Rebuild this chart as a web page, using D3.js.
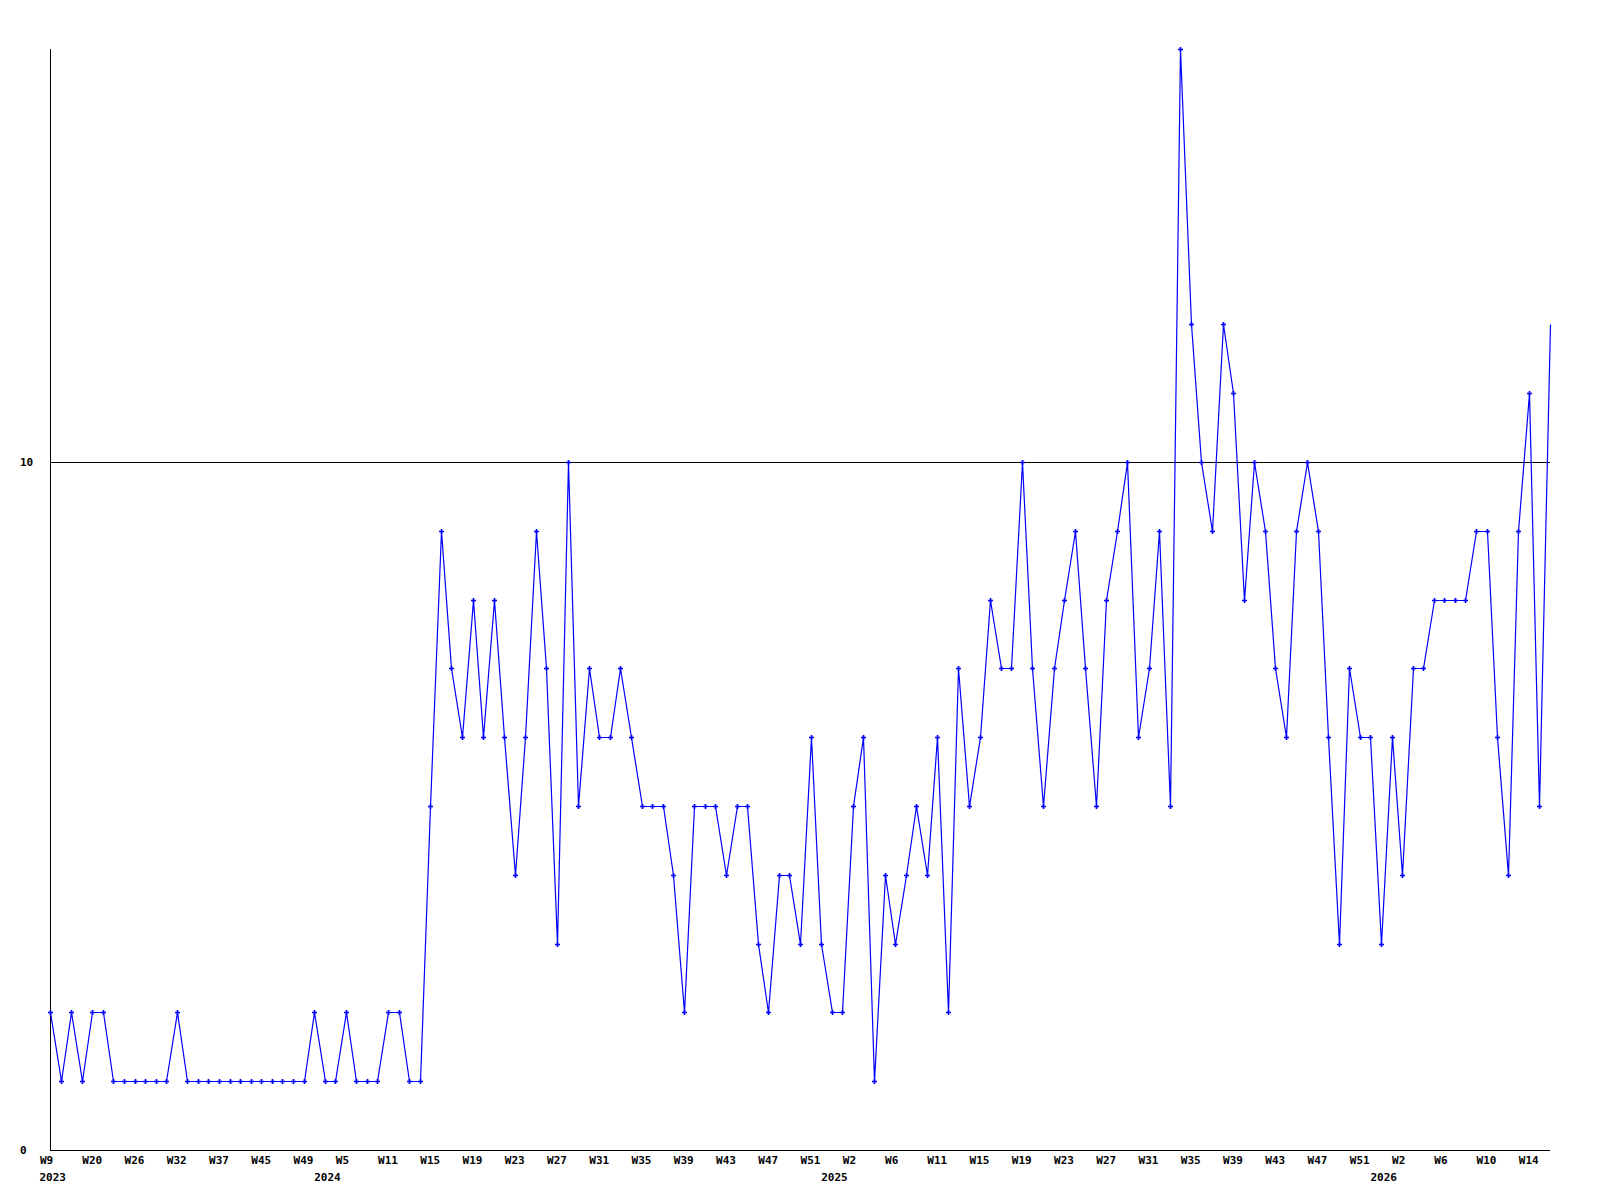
<!DOCTYPE html>
<html>
<head>
<meta charset="utf-8">
<script src="https://cdn.jsdelivr.net/npm/d3@7"></script>
<style>
  html, body { margin: 0; padding: 0; background: #fff; }
  svg text { font-family: "DejaVu Sans Mono", monospace; font-weight: bold; font-size: 11px; }
</style>
</head>
<body>
<svg id="chart" width="1600" height="1200"></svg>
<script>
// weekly counts, one per data point
const values = [
  2,1,2,1,2,2,1,1,1,1,1,1,2,1,1,1,1,1,1,1,1,1,1,1,1,2,1,1,2,1,1,1,2,2,1,1,
  5,9,7,6,8,6,8,6,4,6,9,7,3,10,5,7,6,6,7,6,5,5,5,4,2,5,5,5,4,5,5,3,2,4,4,
  3,6,3,2,2,5,6,1,4,3,4,5,4,6,2,7,5,6,8,7,7,10,7,5,7,8,9,7,5,8,9,10,6,7,9,5,
  16,12,10,9,12,11,8,10,9,7,6,9,10,9,6,3,7,6,6,3,6,4,7,7,8,8,8,8,9,9,6,4,9,11,5,12
];

// week labels, shown on every 4th point
const tick_weeks = ["W9","W20","W26","W32","W37","W45","W49","W5","W11","W15","W19","W23",
  "W27","W31","W35","W39","W43","W47","W51","W2","W6","W11","W15","W19","W23","W27",
  "W31","W35","W39","W43","W47","W51","W2","W6","W10","W14"];
const tick_step = 4;

// year labels and the point index where each year starts
const years = ["2023","2024","2025","2026"];
const year_start = [0, 26, 74, 126];

const y_ticks = [0, 10];
const ref_value = 10;

const margin = {left: 50, right: 50, top: 49, bottom: 50};
const W = 1600, H = 1200;
const svg = d3.select('#chart');

const x = d3.scaleLinear()
  .domain([0, values.length - 1])
  .range([margin.left, W - margin.right]);

const y = d3.scaleLinear()
  .domain([0, 16])
  .range([H - margin.bottom, margin.top]);

// ===============================================================
// axes frame
svg.append('line')
  .attr('x1', x(0) + 0.5).attr('x2', x(0) + 0.5)
  .attr('y1', y(16)).attr('y2', y(0) + 0.5)
  .attr('stroke', 'black').attr('stroke-width', 1);

svg.append('line')
  .attr('x1', x(0)).attr('x2', x(values.length - 1))
  .attr('y1', y(0) + 0.5).attr('y2', y(0) + 0.5)
  .attr('stroke', 'black').attr('stroke-width', 1);

// reference line at 10
svg.append('line')
  .attr('x1', x(0)).attr('x2', x(values.length - 1))
  .attr('y1', Math.round(y(ref_value)) + 0.5).attr('y2', Math.round(y(ref_value)) + 0.5)
  .attr('stroke', 'black').attr('stroke-width', 1);

// y tick labels
svg.append('g')
  .selectAll('text')
  .data(y_ticks)
  .enter().append('text')
    .attr('x', 20)
    .attr('y', d => y(d))
    .attr('dy', '0.35em')
    .text(d => d);

// ===============================================================
// x axis labels
const tick_idx = tick_weeks.map((w, i) => i * tick_step);

svg.append('g')
  .attr('transform', `translate(0,${y(0) + 6})`)
  .call(d3.axisBottom(x)
    .tickValues(tick_idx)
    .tickSize(0)
    .tickFormat((d, i) => tick_weeks[i]))
  .call(g => g.select('.domain').remove())
  .selectAll('text')
    .attr('text-anchor', 'start')
    .attr('x', -10.5)
    .attr('y', 0)
    .attr('dy', '0.71em')
    .style('font-family', '"DejaVu Sans Mono", monospace')
    .style('font-weight', 'bold')
    .style('font-size', '11px')
    .attr('fill', 'black');

svg.append('g')
  .selectAll('text')
  .data(years)
  .enter().append('text')
    .attr('x', (d, i) => x(year_start[i]) - 10.5)
    .attr('y', y(0) + 27)
    .attr('dy', '0.35em')
    .text(d => d);

// ===============================================================
// data line + markers
const line = d3.line()
  .x((d, i) => Math.round(x(i)) + 0.5)
  .y(d => Math.round(y(d)) + 0.5);

svg.append('path')
  .attr('d', line(values))
  .attr('fill', 'none')
  .attr('stroke', '#0000ff')
  .attr('stroke-width', 1.2);

const marker = d3.symbol().type(d3.symbolCross).size(14);

svg.append('g')
  .selectAll('path')
  .data(values.slice(0, -1))
  .enter().append('path')
    .attr('d', marker)
    .attr('transform', (d, i) => `translate(${Math.round(x(i)) + 0.5},${Math.round(y(d)) + 0.5})`)
    .attr('fill', '#0000ff');
</script>
</body>
</html>
